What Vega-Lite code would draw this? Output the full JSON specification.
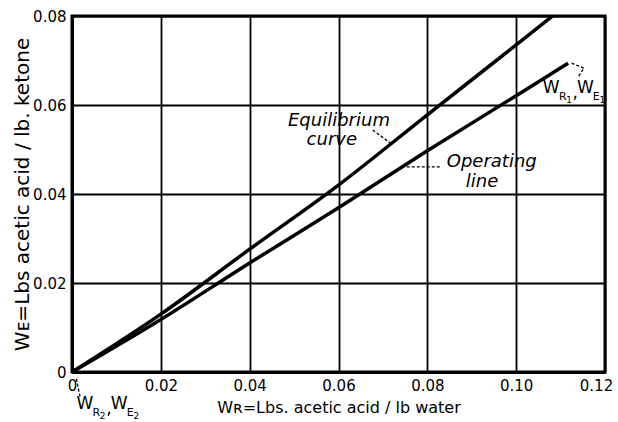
{
  "$schema": "https://vega.github.io/schema/vega-lite/v6.json",
  "width": 533,
  "height": 356,
  "autosize": "none",
  "padding": {"left": 72, "top": 16, "right": 13, "bottom": 50},
  "background": "white",
  "config": {
    "font": "DejaVu Sans",
    "view": {"stroke": "black", "strokeWidth": 3},
    "axis": {
      "domainColor": "black", "domainWidth": 3,
      "gridColor": "black", "gridWidth": 1.8, "gridOpacity": 1,
      "ticks": false,
      "labelColor": "black", "labelFontSize": 15, "labelFont": "DejaVu Sans",
      "titleColor": "black", "titleFontSize": 16, "titleFontWeight": "normal", "titleFont": "DejaVu Sans"
    }
  },
  "datasets": {
    "curves": [
      {"series": "Equilibrium curve", "wr": 0, "we": 0},
      {"series": "Equilibrium curve", "wr": 0.02, "we": 0.013},
      {"series": "Equilibrium curve", "wr": 0.04, "we": 0.0276},
      {"series": "Equilibrium curve", "wr": 0.06, "we": 0.042},
      {"series": "Equilibrium curve", "wr": 0.08, "we": 0.0578},
      {"series": "Equilibrium curve", "wr": 0.10, "we": 0.0735},
      {"series": "Equilibrium curve", "wr": 0.1082, "we": 0.08},
      {"series": "Operating line", "wr": 0, "we": 0},
      {"series": "Operating line", "wr": 0.02, "we": 0.0118},
      {"series": "Operating line", "wr": 0.04, "we": 0.0245},
      {"series": "Operating line", "wr": 0.06, "we": 0.0369},
      {"series": "Operating line", "wr": 0.08, "we": 0.0497},
      {"series": "Operating line", "wr": 0.10, "we": 0.0621},
      {"series": "Operating line", "wr": 0.1117, "we": 0.0694}
    ],
    "labels": [
      {"text": "Equilibrium", "x": 0.0601, "y": 0.0564},
      {"text": "curve", "x": 0.0585, "y": 0.0521},
      {"text": "Operating", "x": 0.0945, "y": 0.0472},
      {"text": "line", "x": 0.0923, "y": 0.0427}
    ],
    "wmain": [
      {"text": "W", "x": 0.1079, "y": 0.0638},
      {"text": ",", "x": 0.1133, "y": 0.0626},
      {"text": "W", "x": 0.1156, "y": 0.0638},
      {"text": "W", "x": 0.0029, "y": -0.0072},
      {"text": ",", "x": 0.0083, "y": -0.0083},
      {"text": "W", "x": 0.0106, "y": -0.0072}
    ],
    "wsub": [
      {"text": "R", "x": 0.1105, "y": 0.0618},
      {"text": "E", "x": 0.1180, "y": 0.0618},
      {"text": "R", "x": 0.0055, "y": -0.0092},
      {"text": "E", "x": 0.0131, "y": -0.0092}
    ],
    "wsubsub": [
      {"text": "1", "x": 0.1119, "y": 0.0611},
      {"text": "1", "x": 0.1194, "y": 0.0611},
      {"text": "2", "x": 0.0069, "y": -0.0098},
      {"text": "2", "x": 0.0145, "y": -0.0098}
    ],
    "arrows": [
      {"x": 0.0677, "y": 0.0544, "x2": 0.0716, "y2": 0.0515},
      {"x": 0.0828, "y": 0.0461, "x2": 0.0749, "y2": 0.0461},
      {"x": 0.1141, "y": 0.0665, "x2": 0.1152, "y2": 0.0683},
      {"x": 0.1152, "y": 0.0683, "x2": 0.1125, "y2": 0.0694},
      {"x": 0.0018, "y": -0.0055, "x2": 0.0009, "y2": -0.0011}
    ]
  },
  "layer": [
    {
      "data": {"name": "curves"},
      "mark": {"type": "line", "color": "black", "strokeWidth": 3.5, "clip": true, "interpolate": "monotone"},
      "encoding": {
        "x": {
          "field": "wr", "type": "quantitative",
          "scale": {"domain": [0, 0.12], "nice": false, "zero": true},
          "axis": {
            "values": [0, 0.02, 0.04, 0.06, 0.08, 0.10, 0.12],
            "labelExpr": "datum.value == 0 ? '0' : format(datum.value, '.2f')",
            "labelOffset": {"condition": {"test": "datum.value > 0.119", "value": -9}, "value": 0},
            "labelPadding": 6, "labelFlush": false,
            "title": "Wʀ=Lbs. acetic acid / lb water", "titlePadding": 6
          }
        },
        "y": {
          "field": "we", "type": "quantitative",
          "scale": {"domain": [0, 0.08], "nice": false},
          "axis": {
            "values": [0, 0.02, 0.04, 0.06, 0.08],
            "labelExpr": "datum.value == 0 ? '0' : format(datum.value, '.2f')",
            "labelPadding": 6, "labelFlush": false,
            "title": "Wᴇ=Lbs acetic acid / lb. ketone", "titlePadding": 0, "titleFontSize": 20
          }
        },
        "detail": {"field": "series"}
      }
    },
    {
      "data": {"name": "labels"},
      "mark": {"type": "text", "fontStyle": "italic", "fontSize": 18, "color": "black", "baseline": "middle"},
      "encoding": {
        "x": {"field": "x", "type": "quantitative"},
        "y": {"field": "y", "type": "quantitative"},
        "text": {"field": "text"}
      }
    },
    {
      "data": {"name": "wmain"},
      "mark": {"type": "text", "fontSize": 17, "color": "black", "baseline": "middle"},
      "encoding": {
        "x": {"field": "x", "type": "quantitative"},
        "y": {"field": "y", "type": "quantitative"},
        "text": {"field": "text"}
      }
    },
    {
      "data": {"name": "wsub"},
      "mark": {"type": "text", "fontSize": 11, "color": "black", "baseline": "middle"},
      "encoding": {
        "x": {"field": "x", "type": "quantitative"},
        "y": {"field": "y", "type": "quantitative"},
        "text": {"field": "text"}
      }
    },
    {
      "data": {"name": "wsubsub"},
      "mark": {"type": "text", "fontSize": 9, "color": "black", "baseline": "middle"},
      "encoding": {
        "x": {"field": "x", "type": "quantitative"},
        "y": {"field": "y", "type": "quantitative"},
        "text": {"field": "text"}
      }
    },
    {
      "data": {"name": "arrows"},
      "mark": {"type": "rule", "color": "black", "strokeWidth": 1.3, "strokeDash": [3, 2]},
      "encoding": {
        "x": {"field": "x", "type": "quantitative"},
        "y": {"field": "y", "type": "quantitative"},
        "x2": {"field": "x2"},
        "y2": {"field": "y2"}
      }
    }
  ]
}
